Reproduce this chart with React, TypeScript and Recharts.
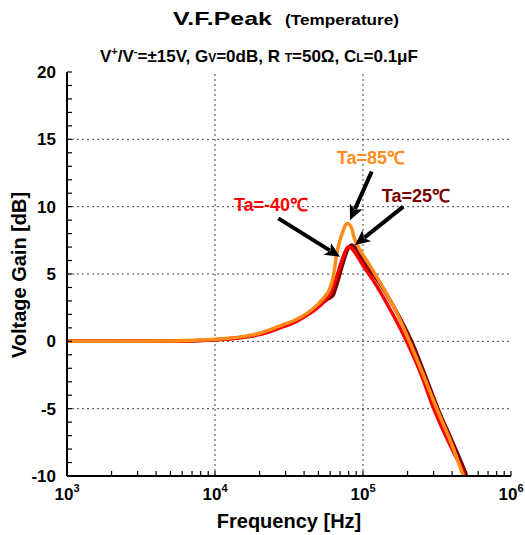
import React from 'react';
import { LineChart, Line, XAxis, YAxis, ReferenceLine, ReferenceDot } from 'recharts';

// ---- data ----
const freq85 = [1000, 2000, 5000, 10000, 15000, 20000, 27500, 35000, 42000, 50000, 55000, 59000, 63000, 66400, 71800, 78300, 83900, 86000, 93000, 106000, 130000, 161000, 206000, 260000, 315000, 400000, 476000, 520000];
const gain85 = [0, 0, 0.03, 0.15, 0.33, 0.6, 1.15, 1.6, 2.1, 2.8, 3.3, 3.8, 4.8, 6.5, 7.9, 8.75, 8.4, 7.9, 7.0, 6.0, 4.4, 2.6, 0, -2.7, -5, -7.7, -10, -11.2];

const freq25 = [1000, 2000, 5000, 10000, 20000, 27500, 35000, 42000, 50000, 57000, 63000, 64700, 83900, 90000, 100000, 130000, 161000, 213000, 265000, 321000, 400000, 502000, 540000];
const gain25 = [0, 0, 0.02, 0.12, 0.55, 1.05, 1.5, 2.0, 2.6, 3.1, 3.44, 3.8, 7.15, 6.9, 6.0, 4.3, 2.6, 0, -2.6, -5, -7.4, -10, -11];

const freqM40 = [1000, 2000, 5000, 10000, 20000, 27500, 35000, 42000, 50000, 55000, 61500, 66400, 73600, 79600, 100500, 124000, 152000, 197000, 250000, 298000, 380000, 489000, 530000];
const gainM40 = [0, 0, 0.02, 0.12, 0.5, 1.0, 1.45, 1.95, 2.55, 3.0, 3.8, 4.8, 6.3, 7.02, 5.6, 4.1, 2.4, 0, -2.6, -4.9, -7.5, -10, -11];

const MAJOR_X = [1000, 10000, 100000, 1000000];
const X_EXP = ['3', '4', '5', '6'];
const MINOR_MULT = [2, 3, 4, 5, 6, 7, 8, 9];
const Y_LABELS = [-10, -5, 0, 5, 10, 15, 20];
const Y_ALL = Array.from({ length: 31 }, (_, i) => i - 10);

const ANN_TEXT = ['Ta=85℃', 'Ta=25℃', 'Ta=-40℃'];
const ANN_COLOR = ['#FF8C1A', '#7B0000', '#FF0000'];
const ANN_POS = [
  { x: 113000, y: 13.6 },
  { x: 228000, y: 10.8 },
  { x: 23900, y: 10.1 },
];
const ARROWS = [
  [{ x: 114500, y: 12.6 }, { x: 81700, y: 9.0 }],
  [{ x: 187000, y: 10.0 }, { x: 88300, y: 7.15 }],
  [{ x: 26800, y: 9.13 }, { x: 69900, y: 6.28 }],
];

const rows = (f: number[], g: number[]) => f.map((v, i) => ({ f: v, g: g[i] }));
const data85 = rows(freq85, gain85);
const data25 = rows(freq25, gain25);
const dataM40 = rows(freqM40, gainM40);

const X_TICKS: number[] = [];
MAJOR_X.forEach((m, i) => {
  X_TICKS.push(m);
  if (i < MAJOR_X.length - 1) MINOR_MULT.forEach((k) => X_TICKS.push(m * k));
});

const FONT = '"Liberation Sans", Arial, Helvetica, sans-serif';

const BottomTick = (props: any) => {
  const { x, y, payload } = props;
  const i = MAJOR_X.indexOf(payload.value);
  return (
    <g>
      <line x1={x} x2={x} y1={y} y2={y - 5} stroke="#000" strokeWidth={1.2} />
      {i >= 0 && (
        <text x={x} y={y + 24} textAnchor="middle" fontSize={17} fontWeight="bold" fill="#000" fontFamily={FONT}>
          10<tspan dy={-8} fontSize={11}>{X_EXP[i]}</tspan>
        </text>
      )}
    </g>
  );
};

const TopTick = (props: any) => {
  const { x, y } = props;
  return <line x1={x} x2={x} y1={y} y2={y + 5} stroke="#000" strokeWidth={1.2} />;
};

const LeftTick = (props: any) => {
  const { x, y, payload } = props;
  const lab = Y_LABELS.includes(payload.value);
  return (
    <g>
      <line x1={x} x2={x + 5} y1={y} y2={y} stroke="#000" strokeWidth={1.2} />
      {lab && (
        <text x={x - 11} y={y + 6} textAnchor="end" fontSize={17} fontWeight="bold" fill="#000" fontFamily={FONT}>
          {payload.value}
        </text>
      )}
    </g>
  );
};

const RightTick = (props: any) => {
  const { x, y } = props;
  return <line x1={x} x2={x - 5} y1={y} y2={y} stroke="#000" strokeWidth={1.2} />;
};

const ArrowShape = (props: any) => {
  const { x1, y1, x2, y2 } = props;
  const dx = x2 - x1, dy = y2 - y1;
  const len = Math.sqrt(dx * dx + dy * dy) || 1;
  const ux = dx / len, uy = dy / len;
  const hl = 15, hw = 7;
  const bx = x2 - ux * hl, by = y2 - uy * hl;
  const nx = -uy, ny = ux;
  const pts = `${x2},${y2} ${bx + nx * hw},${by + ny * hw} ${x2 - ux * hl * 0.75},${y2 - uy * hl * 0.75} ${bx - nx * hw},${by - ny * hw}`;
  return (
    <g>
      <line x1={x1} y1={y1} x2={x2 - ux * hl * 0.8} y2={y2 - uy * hl * 0.8} stroke="#000" strokeWidth={4} />
      <polygon points={pts} fill="#000" />
    </g>
  );
};

const gridStyle = { stroke: '#444', strokeDasharray: '2 3', strokeWidth: 1 };

export default function App() {
  return (
    <div style={{ position: 'absolute', left: 0, top: 0, width: 525, height: 535, background: '#fff' }}>
      <LineChart width={525} height={535} margin={{ top: 72, right: 14, bottom: 0, left: 0 }}>
        <XAxis xAxisId={0} dataKey="f" type="number" scale="log" domain={[1000, 1000000]} ticks={X_TICKS}
          interval={0} allowDataOverflow height={59} tickSize={0} tickMargin={0} tick={<BottomTick />}
          axisLine={{ stroke: '#000', strokeWidth: 2 }} tickLine={false} />
        <XAxis xAxisId="top" orientation="top" dataKey="f" type="number" scale="log" domain={[1000, 1000000]}
          ticks={X_TICKS} interval={0} allowDataOverflow height={0} tickSize={0} tickMargin={0}
          tick={<TopTick />} axisLine={{ stroke: '#000', strokeWidth: 2 }} tickLine={false} />
        <YAxis yAxisId={0} type="number" domain={[-10, 20]} ticks={Y_ALL} interval={0} allowDataOverflow width={67}
          tickSize={0} tickMargin={0} tick={<LeftTick />} axisLine={{ stroke: '#000', strokeWidth: 2 }} tickLine={false} />
        <YAxis yAxisId="right" orientation="right" type="number" domain={[-10, 20]} ticks={Y_ALL} interval={0}
          allowDataOverflow width={0} tickSize={0} tickMargin={0} tick={<RightTick />}
          axisLine={{ stroke: '#000', strokeWidth: 2 }} tickLine={false} />

        {[10000, 100000].map((v) => (
          <ReferenceLine key={'gx' + v} x={v} xAxisId={0} yAxisId={0} {...gridStyle} />
        ))}
        {[-5, 0, 5, 10, 15].map((v) => (
          <ReferenceLine key={'gy' + v} y={v} xAxisId={0} yAxisId={0} {...gridStyle} />
        ))}

        <Line type="monotoneX" data={data25} dataKey="g" xAxisId={0} yAxisId={0} stroke="#7B0000" strokeWidth={3.5} dot={false} isAnimationActive={false} />
        <Line type="monotoneX" data={dataM40} dataKey="g" xAxisId={0} yAxisId={0} stroke="#FF0000" strokeWidth={3.5} dot={false} isAnimationActive={false} />
        <Line type="monotoneX" data={data85} dataKey="g" xAxisId={0} yAxisId={0} stroke="#FF8C1A" strokeWidth={3.5} dot={false} isAnimationActive={false} />

        {ARROWS.map((seg, i) => (
          <ReferenceLine key={'ar' + i} segment={seg} xAxisId={0} yAxisId={0} shape={<ArrowShape />} />
        ))}
        {ANN_POS.map((p, i) => (
          <ReferenceDot key={'an' + i} x={p.x} y={p.y} xAxisId={0} yAxisId={0} r={0}
            shape={(sp: any) => (
              <text x={sp.cx} y={sp.cy + 6} textAnchor="middle" fontSize={18} fontWeight="bold" fill={ANN_COLOR[i]} fontFamily={FONT}>
                {ANN_TEXT[i]}
              </text>
            )} />
        ))}
      </LineChart>
      <svg width={525} height={535} style={{ position: 'absolute', left: 0, top: 0, pointerEvents: 'none' }}>
        <text x={173} y={25} fontSize={19} fontWeight="bold" fontFamily={FONT} fill="#000" textLength={99} lengthAdjust="spacingAndGlyphs">
          V.F.Peak
        </text>
        <text x={285} y={25} fontSize={15} fontWeight="bold" fontFamily={FONT} fill="#000" textLength={114} lengthAdjust="spacingAndGlyphs">
          (Temperature)
        </text>
        <text x={100} y={62} fontSize={17} fontWeight="bold" fontFamily={FONT} fill="#000">
          V<tspan dy={-7} fontSize={11}>+</tspan><tspan dy={7}>/V</tspan><tspan dy={-7} fontSize={11}>-</tspan>
          <tspan dy={7}>=±15V, G</tspan><tspan fontSize={12}>V</tspan>=0dB, R <tspan fontSize={12}>T</tspan>=50Ω, C<tspan fontSize={12}>L</tspan>=0.1μF
        </text>
        <text x={289} y={528} textAnchor="middle" fontSize={20} fontWeight="bold" fontFamily={FONT} fill="#000">
          Frequency [Hz]
        </text>
        <text transform="translate(26,275) rotate(-90)" textAnchor="middle" fontSize={20} fontWeight="bold" fontFamily={FONT} fill="#000">
          Voltage Gain [dB]
        </text>
      </svg>
    </div>
  );
}
